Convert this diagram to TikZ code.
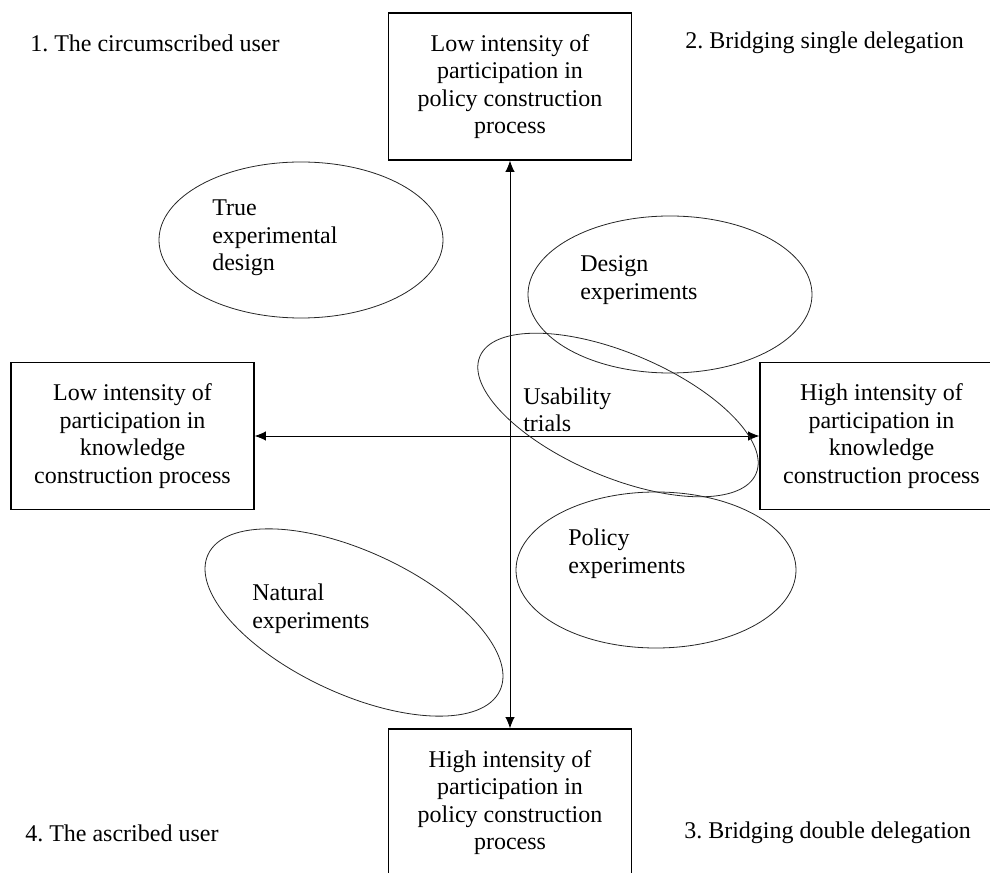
\documentclass[tikz,border=0pt]{standalone}
\usepackage{fontspec}
\setmainfont{Liberation Serif}
\usepackage{tikz}
\usetikzlibrary{arrows.meta,shapes.geometric}
\frenchspacing
\tikzset{
  axisbox/.style={draw, line width=0.8pt, align=center, inner sep=0pt,
    minimum width=182.25pt, minimum height=110.25pt},
  oval/.style={ellipse, draw, line width=0.6pt, draw=black!85, inner sep=0pt},
  lbl/.style={align=left, anchor=west, inner sep=0pt},
  >={Latex[length=8.5pt,width=7pt]}
}

\begin{document}
\begin{tikzpicture}[x=0.75pt, y=-0.75pt,
  every node/.style={font=\fontsize{18}{20.6}\selectfont}]
  \useasboundingbox (0,0) rectangle (990,873);
  % quadrant titles
  \node[lbl] (q1) at (30,43) {1. The circumscribed user};
  \node[lbl] (q2) at (685,43) {2. Bridging single delegation};
  \node[lbl] (q3) at (684,833) {3. Bridging double delegation};
  \node[lbl] (q4) at (25,833) {4. The ascribed user};
  % axis ends
  \node[axisbox] (lowpol) at (510,86.5) {Low intensity of\\participation in\\policy construction\\process};
  \node[axisbox] (highpol) at (510,802.5) {High intensity of\\participation in\\policy construction\\process};
  \node[axisbox] (lowknow) at (132.5,436) {Low intensity of\\participation in\\knowledge\\construction process};
  \node[axisbox] (highknow) at (881.5,436) {High intensity of\\participation in\\knowledge\\construction process};
  \draw[<->, line width=0.7pt] (lowpol) -- (highpol);
  \draw[<->, line width=0.7pt] (lowknow) -- (highknow);
  % experiment types
  \node[oval, minimum width=213pt, minimum height=117pt] (truex) at (301,240) {};
  \node[oval, minimum width=213pt, minimum height=117.75pt] (desx) at (670,294.5) {};
  \node[oval, minimum width=210pt, minimum height=117pt] (polx) at (656,570) {};
  \node[oval, minimum width=225pt, minimum height=93pt, rotate=-23] (usex) at (618,415) {};
  \node[oval, minimum width=241.5pt, minimum height=106.5pt, rotate=-25] (natx) at (354,622.5) {};
  \node[lbl] (truet) at (212,238) {True\\experimental\\design};
  \node[lbl] (dest) at (580,280) {Design\\experiments};
  \node[lbl] (uset) at (523,410) {Usability\\trials};
  \node[lbl] (polt) at (568,553.5) {Policy\\experiments};
  \node[lbl] (natt) at (252,608.5) {Natural\\experiments};
\end{tikzpicture}
\end{document}
